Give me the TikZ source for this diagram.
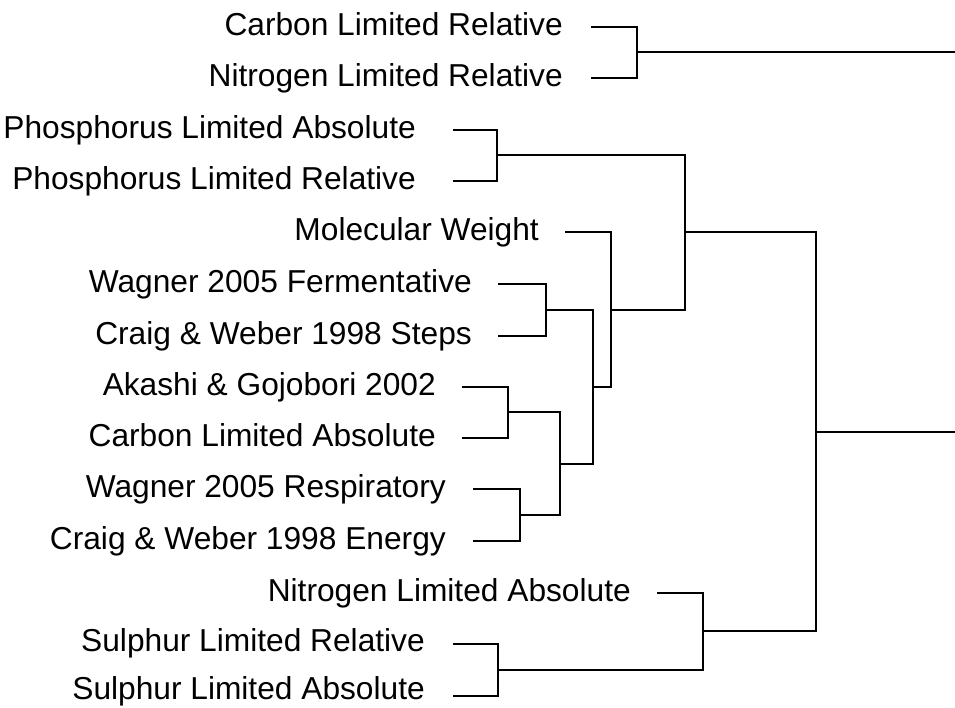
\documentclass[tikz,border=0pt]{standalone}
\usepackage{fontspec}
\setmainfont{Liberation Sans}
\begin{document}
\begin{tikzpicture}[x=1pt,y=-1pt,
  lbl/.style={anchor=base east, inner sep=0pt, font=\fontsize{31.7}{36}\selectfont},
  link/.style={line width=2pt, line join=miter, black}]
\useasboundingbox (0,0) rectangle (955,707);
% labels
\node[lbl] (tCLR) at (563,35) {Carbon Limited Relative};
\node[lbl] (tNLR) at (563,86) {Nitrogen Limited Relative};
\node[lbl] (tPLA) at (416,138) {Phosphorus Limited Absolute};
\node[lbl] (tPLR) at (416,189) {Phosphorus Limited Relative};
\node[lbl] (tMW) at (539,240) {Molecular Weight};
\node[lbl] (tWF) at (472,292) {Wagner 2005 Fermentative};
\node[lbl] (tCWS) at (472,344) {Craig \& Weber 1998 Steps};
\node[lbl] (tAG) at (436,395) {Akashi \& Gojobori 2002};
\node[lbl] (tCLA) at (436,446) {Carbon Limited Absolute};
\node[lbl] (tWR) at (446,497) {Wagner 2005 Respiratory};
\node[lbl] (tCWE) at (446,549) {Craig \& Weber 1998 Energy};
\node[lbl] (tNLA) at (631,601) {Nitrogen Limited Absolute};
\node[lbl] (tSR) at (425,651) {Sulphur Limited Relative};
\node[lbl] (tSA) at (425,699) {Sulphur Limited Absolute};
% leaf line starts
\coordinate (sCLR) at (591,27);
\coordinate (sNLR) at (591,78);
\coordinate (sPLA) at (453,130);
\coordinate (sPLR) at (453,181);
\coordinate (sMW) at (565,232);
\coordinate (sWF) at (498,284);
\coordinate (sCWS) at (498,336);
\coordinate (sAG) at (462,387);
\coordinate (sCLA) at (462,438);
\coordinate (sWR) at (473,489);
\coordinate (sCWE) at (473,541);
\coordinate (sNLA) at (657,593);
\coordinate (sSR) at (453,644);
\coordinate (sSA) at (453,696);
% junctions
\coordinate (j1) at (637,52);
\coordinate (j2) at (497,155);
\coordinate (j3) at (546,310);
\coordinate (j4) at (508,412);
\coordinate (j5) at (520,515);
\coordinate (j6) at (560,464);
\coordinate (j7) at (593,387);
\coordinate (j8) at (611,310);
\coordinate (j9) at (685,232);
\coordinate (j10) at (498,670);
\coordinate (j11) at (703,631);
\coordinate (j12) at (816,432);
\coordinate (e1) at (955,52);
\coordinate (e2) at (955,432);
% tree
\draw[link] (sCLR) -| (j1) |- (sNLR);
\draw[link] (j1) -- (e1);
\draw[link] (sPLA) -| (j2) |- (sPLR);
\draw[link] (sWF) -| (j3) |- (sCWS);
\draw[link] (sAG) -| (j4) |- (sCLA);
\draw[link] (sWR) -| (j5) |- (sCWE);
\draw[link] (j4) -| (j6) |- (j5);
\draw[link] (j3) -| (j7) |- (j6);
\draw[link] (sMW) -| (j8) |- (j7);
\draw[link] (j2) -| (j9) |- (j8);
\draw[link] (sSR) -| (j10) |- (sSA);
\draw[link] (sNLA) -| (j11) |- (j10);
\draw[link] (j9) -| (j12) |- (j11);
\draw[link] (j12) -- (e2);
\end{tikzpicture}
\end{document}
